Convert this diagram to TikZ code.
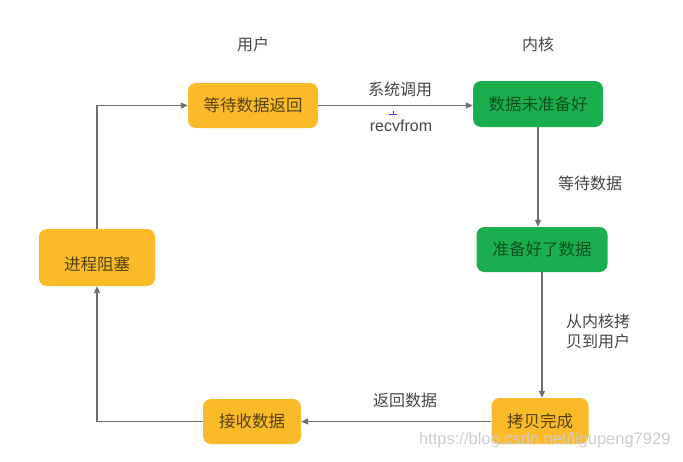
\documentclass[tikz,border=0pt]{standalone}
\usepackage{fontspec}
\setmainfont{Liberation Sans}
\newfontfamily\cjk{Noto Sans CJK SC}
\usetikzlibrary{arrows.meta}
\definecolor{orng}{RGB}{251,186,40}
\definecolor{grn}{RGB}{27,174,78}
\definecolor{ln}{RGB}{110,110,110}
\definecolor{txtgray}{RGB}{70,70,70}
\definecolor{otxt}{RGB}{85,65,20}
\definecolor{gtxt}{RGB}{15,80,35}
\begin{document}
\begin{tikzpicture}[x=1pt,y=-1pt,
  box/.style={rounded corners=8pt,inner sep=0pt,font=\cjk\fontsize{16.5}{19}\selectfont},
  obox/.style={box,fill=orng,text=otxt},
  gbox/.style={box,fill=grn,text=gtxt},
  lbl/.style={font=\cjk\fontsize{16}{21}\selectfont,text=txtgray,align=center},
  conn/.style={draw=ln,line width=1.1pt,-{Triangle[length=7pt,width=6pt]}}
]
\useasboundingbox[fill=white] (0,0) rectangle (683,461);
\node[obox,minimum width=130pt,minimum height=45pt] (wait) at (253,105.5) {\color{otxt}等待数据返回};
\node[gbox,minimum width=130pt,minimum height=46pt] (notready) at (538,104) {\color{gtxt}数据未准备好};
\node[gbox,minimum width=131pt,minimum height=45pt] (ready) at (542,249.5) {\color{gtxt}准备好了数据};
\node[obox,minimum width=97pt,minimum height=46pt] (copied) at (540,421) {\color{otxt}拷贝完成};
\node[obox,minimum width=98pt,minimum height=45pt] (recv) at (252,421.5) {\color{otxt}接收数据};
\node[obox,minimum width=116pt,minimum height=57pt,text depth=0pt] (block) at (97,257.5) {\raisebox{-12pt}{\color{otxt}进程阻塞}};

\node[lbl] (user) at (253,44) {用户};
\node[lbl] (kernel) at (538,44) {内核};
\node[lbl] (syscall) at (400,89) {系统调用};
\node[font=\fontsize{16}{18}\selectfont,text=txtgray] (recvfrom) at (401,126) {recvfrom};
\node[lbl] (waitdata) at (590,183) {等待数据};
\node[lbl] (copylbl) at (598,331) {从内核拷\\[-1pt]贝到用户};
\node[lbl] (retdata) at (405,400) {返回数据};
\node[font=\fontsize{16.5}{18}\selectfont,text=black!20,anchor=east] (wm) at (674,440) {https://blog.csdn.net/ligupeng7929};

\coordinate (c1) at (97,105.5);
\coordinate (c2) at (97,421.5);
\draw[blue!80,line width=0.8pt] (389,114) -- (397,114) (393,111) -- (393,114);

\draw[conn] (block.north) -- (c1) -- (wait.west);
\draw[conn] (wait.east) -- (notready.west |- wait.east);
\draw[conn] (notready.south) -- (notready.south |- ready.north);
\draw[conn] (ready.south) -- (ready.south |- copied.north);
\draw[conn] (copied.west |- recv.east) -- (recv.east);
\draw[conn] (recv.west) -- (c2) -- (block.south);
\end{tikzpicture}
\end{document}
